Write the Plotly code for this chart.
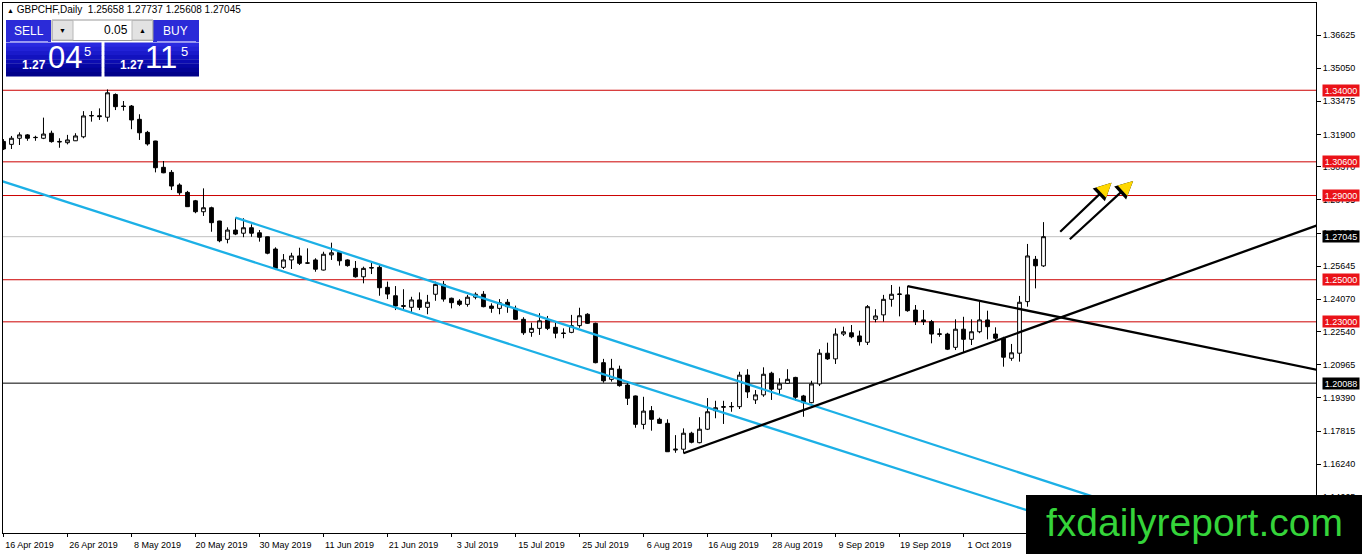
import plotly.graph_objects as go
import pandas as pd

# GBPCHF daily bars, 16 Apr 2019 .. 15 Oct 2019 (weekdays)
symbol = "GBPCHF,Daily"
dates = pd.bdate_range("2019-04-16", periods=131)

opens = [1.3157, 1.3143, 1.3172, 1.3188, 1.3175, 1.3172, 1.3196, 1.3157, 1.3151, 1.3160,
         1.3179, 1.3278, 1.3279, 1.3272, 1.3380, 1.3325, 1.3325, 1.3262, 1.3200, 1.3159,
         1.3034, 1.3010, 1.2950, 1.2915, 1.2875, 1.2823, 1.2842, 1.2779, 1.2692, 1.2736,
         1.2721, 1.2747, 1.2723, 1.2704, 1.2646, 1.2559, 1.2594, 1.2613, 1.2580, 1.2594,
         1.2546, 1.2618, 1.2630, 1.2594, 1.2554, 1.2514, 1.2558, 1.2559, 1.2464, 1.2424,
         1.2377, 1.2369, 1.2404, 1.2369, 1.2431, 1.2478, 1.2412, 1.2399, 1.2383, 1.2417,
         1.2431, 1.2375, 1.2364, 1.2393, 1.2364, 1.2312, 1.2250, 1.2269, 1.2309, 1.2274,
         1.2247, 1.2250, 1.2282, 1.2336, 1.2293, 1.2106, 1.2027, 1.2075, 1.2000, 1.1948,
         1.1813, 1.1878, 1.1837, 1.1818, 1.1691, 1.1695, 1.1771, 1.1726, 1.1790, 1.1878,
         1.1894, 1.1896, 1.1897, 1.2047, 1.1929, 1.1953, 1.2056, 1.1980, 1.2008, 1.2036,
         1.1948, 1.1916, 1.2005, 1.2151, 1.2124, 1.2242, 1.2248, 1.2233, 1.2203, 1.2312,
         1.2333, 1.2407, 1.2430, 1.2428, 1.2356, 1.2309, 1.2301, 1.2243, 1.2242, 1.2179,
         1.2265, 1.2217, 1.2253, 1.2309, 1.2242, 1.2222, 1.2127, 1.2151, 1.2396, 1.2597,
         1.25658]
highs = [1.3168, 1.3183, 1.3200, 1.3192, 1.3184, 1.3270, 1.3208, 1.3172, 1.3188, 1.3196,
         1.3301, 1.3301, 1.3314, 1.3404, 1.3385, 1.3349, 1.3330, 1.3286, 1.3207, 1.3160,
         1.3064, 1.3021, 1.2958, 1.2922, 1.2879, 1.2934, 1.2847, 1.2780, 1.2749, 1.2795,
         1.2792, 1.2763, 1.2736, 1.2705, 1.2654, 1.2622, 1.2628, 1.2652, 1.2649, 1.2602,
         1.2633, 1.2676, 1.2633, 1.2597, 1.2589, 1.2562, 1.2586, 1.2573, 1.2491, 1.2470,
         1.2455, 1.2419, 1.2440, 1.2428, 1.2491, 1.2494, 1.2415, 1.2408, 1.2428, 1.2440,
         1.2446, 1.2388, 1.2408, 1.2408, 1.2377, 1.2322, 1.2296, 1.2341, 1.2328, 1.2296,
         1.2269, 1.2333, 1.2367, 1.2341, 1.2296, 1.2124, 1.2124, 1.2092, 1.2011, 1.1950,
         1.1944, 1.1900, 1.1845, 1.1837, 1.1762, 1.1794, 1.1778, 1.1847, 1.1938, 1.1925,
         1.1925, 1.1919, 1.2063, 1.2075, 1.1976, 1.2084, 1.2063, 1.2032, 1.2075, 1.2039,
         1.1953, 1.2020, 1.2170, 1.2201, 1.2269, 1.2277, 1.2285, 1.2258, 1.2380, 1.2360,
         1.2428, 1.2475, 1.2467, 1.2470, 1.2380, 1.2356, 1.2309, 1.2269, 1.2248, 1.2312,
         1.2324, 1.2312, 1.2396, 1.2353, 1.2274, 1.2229, 1.2195, 1.2423, 1.2670, 1.2613,
         1.27737]
lows = [1.3116, 1.3121, 1.3140, 1.3160, 1.3160, 1.3168, 1.3151, 1.3127, 1.3143, 1.3159,
        1.3172, 1.3251, 1.3259, 1.3251, 1.3306, 1.3303, 1.3215, 1.3164, 1.3137, 1.3010,
        1.3006, 1.2926, 1.2903, 1.2846, 1.2816, 1.2803, 1.2728, 1.2678, 1.2673, 1.2712,
        1.2702, 1.2704, 1.2681, 1.2621, 1.2546, 1.2551, 1.2551, 1.2570, 1.2575, 1.2538,
        1.2544, 1.2594, 1.2567, 1.2562, 1.2510, 1.2483, 1.2527, 1.2424, 1.2408, 1.2356,
        1.2356, 1.2343, 1.2356, 1.2336, 1.2400, 1.2396, 1.2364, 1.2375, 1.2372, 1.2407,
        1.2369, 1.2343, 1.2336, 1.2343, 1.2309, 1.2238, 1.2229, 1.2238, 1.2261, 1.2222,
        1.2222, 1.2246, 1.2272, 1.2290, 1.2103, 1.2011, 1.2016, 1.1992, 1.1905, 1.1797,
        1.1790, 1.1783, 1.1815, 1.1682, 1.1678, 1.1676, 1.1723, 1.1723, 1.1786, 1.1842,
        1.1815, 1.1873, 1.1886, 1.1938, 1.1910, 1.1944, 1.1929, 1.1953, 1.2005, 1.1925,
        1.1849, 1.1913, 1.1995, 1.2119, 1.2100, 1.2233, 1.2222, 1.2187, 1.2190, 1.2298,
        1.2301, 1.2372, 1.2326, 1.2348, 1.2285, 1.2285, 1.2198, 1.2229, 1.2166, 1.2166,
        1.2153, 1.2190, 1.2246, 1.2217, 1.2206, 1.2087, 1.2115, 1.2111, 1.2372, 1.2459,
        1.25608]
closes = [1.3121, 1.3172, 1.3188, 1.3172, 1.3176, 1.3192, 1.3156, 1.3155, 1.3164, 1.3183,
          1.3278, 1.3280, 1.3275, 1.3388, 1.3322, 1.3323, 1.3259, 1.3198, 1.3145, 1.3032,
          1.3008, 1.2945, 1.2913, 1.2847, 1.2823, 1.2842, 1.2771, 1.2685, 1.2736, 1.2717,
          1.2747, 1.2721, 1.2702, 1.2626, 1.2554, 1.2594, 1.2613, 1.2578, 1.2579, 1.2550,
          1.2621, 1.2628, 1.2590, 1.2567, 1.2514, 1.2554, 1.2556, 1.2462, 1.2432, 1.2375,
          1.2374, 1.2404, 1.2369, 1.2393, 1.2478, 1.2408, 1.2391, 1.2383, 1.2417, 1.2431,
          1.2372, 1.2364, 1.2391, 1.2372, 1.2312, 1.2248, 1.2269, 1.2305, 1.2269, 1.2246,
          1.2245, 1.2282, 1.2329, 1.2293, 1.2106, 1.2020, 1.2079, 1.1997, 1.1937, 1.1813,
          1.1876, 1.1837, 1.1818, 1.1683, 1.1695, 1.1771, 1.1728, 1.1790, 1.1873, 1.1892,
          1.1897, 1.1898, 1.2047, 1.1967, 1.1953, 1.2051, 1.1980, 1.2005, 1.2027, 1.1942,
          1.1916, 1.2005, 1.2151, 1.2124, 1.2242, 1.2253, 1.2229, 1.2206, 1.2372, 1.2328,
          1.2407, 1.2431, 1.2432, 1.2353, 1.2301, 1.2301, 1.2242, 1.2241, 1.2170, 1.2265,
          1.2217, 1.2253, 1.2309, 1.2277, 1.2222, 1.2132, 1.2153, 1.2393, 1.2613, 1.2566,
          1.27045]

red_levels = [1.34000, 1.30600, 1.29000, 1.25000, 1.23000]
black_level = 1.20088
bid, ask = 1.27045, 1.27115

price_ticks = [1.36625, 1.35050, 1.33475, 1.31900, 1.30370, 1.28795, 1.27220, 1.25645,
               1.24070, 1.22540, 1.20965, 1.19390, 1.17815, 1.16240, 1.14665]

# drawn objects (bar index, price)
channel_upper_x, channel_upper_y = [29, 165], [1.2795, 1.1114]
channel_lower_x, channel_lower_y = [-1, 165], [1.2978, 1.0953]
support_x, support_y = [85, 170], [1.1676, 1.2838]
resist_x, resist_y = [113, 170], [1.2470, 1.2027]
arrows = [((131.9, 1.2721), (138.5, 1.2961)), ((133.1, 1.2686), (141.2, 1.2969))]

date_ticks = list(range(0, 121, 8))
date_labels = [f"{d.day} {d:%b %Y}" for d in dates[date_ticks]]

W, H = 1362, 554
L, R, T, B = 3, 46, 3, 21
FONT = "Liberation Sans"


def px(x):
    return (x - L) / (W - L - R)


def py(y):
    return (H - B - y) / (H - T - B)


fig = go.Figure()
fig.add_trace(go.Candlestick(
    x=list(range(len(opens))), open=opens, high=highs, low=lows, close=closes,
    increasing=dict(line=dict(color="black", width=1), fillcolor="white"),
    decreasing=dict(line=dict(color="black", width=1), fillcolor="black"),
    whiskerwidth=0, showlegend=False, hoverinfo="skip"))

for xs, ys, col in [(channel_upper_x, channel_upper_y, "#1cb0e6"),
                    (channel_lower_x, channel_lower_y, "#1cb0e6"),
                    (support_x, support_y, "black"),
                    (resist_x, resist_y, "black")]:
    fig.add_trace(go.Scatter(x=xs, y=ys, mode="lines", line=dict(color=col, width=2.3),
                             showlegend=False, hoverinfo="skip"))

for lv in red_levels:
    fig.add_hline(y=lv, line=dict(color="#cc0000", width=1), layer="below")
fig.add_hline(y=black_level, line=dict(color="black", width=1), layer="below")
fig.add_hline(y=bid, line=dict(color="#c0c0c0", width=1), layer="below")

# price labels on the right scale
for lv, bg in [(v, "#ea1218") for v in red_levels] + [(black_level, "black"), (bid, "black")]:
    fig.add_annotation(x=1, xref="paper", y=lv, yref="y", xanchor="left", xshift=6,
                       text=f"{lv:.5f}", showarrow=False, bgcolor=bg, borderpad=0,
                       width=36, height=11, font=dict(family=FONT, size=9, color="white"))

# arrows: black shaft, yellow head with dark rim
for (tx, ty), (hx, hy) in arrows:
    fig.add_annotation(x=hx, y=hy, ax=tx, ay=ty, xref="x", yref="y", axref="x", ayref="y",
                       showarrow=True, arrowhead=2, arrowsize=1.6, arrowwidth=2.2,
                       arrowcolor="black", text="")
    fig.add_annotation(x=hx, y=hy, ax=hx + 0.18 * (tx - hx), ay=hy + 0.18 * (ty - hy),
                       xref="x", yref="y", axref="x", ayref="y",
                       showarrow=True, arrowhead=2, arrowsize=1.3, arrowwidth=2.2,
                       arrowcolor="#ffd800", text="")


def rect(x0, y0, x1, y1, fill, line=None):
    fig.add_shape(type="rect", xref="paper", yref="paper", layer="above",
                  x0=px(x0), x1=px(x1), y0=py(y1), y1=py(y0), fillcolor=fill,
                  line=dict(width=1 if line else 0, color=line or fill))


def hseg(x0, x1, y, color):
    fig.add_shape(type="line", xref="paper", yref="paper", layer="above",
                  x0=px(x0), x1=px(x1), y0=py(y), y1=py(y), line=dict(color=color, width=1))


# one-click trading panel
blues = ["#2a2ae0", "#2222d6", "#1a1acb", "#1212bf", "#0b0bb2", "#0606a4", "#030396", "#01018a"]
for bx0, bx1 in [(6, 101.5), (104.5, 199)]:
    for i, c in enumerate(blues):
        rect(bx0, 42.5 + i * 4.2, bx1, 42.5 + (i + 1) * 4.2 + 0.3, c)
rect(6, 20, 51, 42, "#2b2bd8")
rect(153, 20, 199, 42, "#2b2bd8")
rect(52, 20, 153, 40.5, "white", "#9a9a9a")
rect(52.5, 20.5, 73, 40, "#e2e2e2", "#b8b8b8")
rect(132, 20.5, 152.5, 40, "#e2e2e2", "#b8b8b8")
hseg(10, 48, 41.5, "#9c9cf4")
hseg(157, 196, 41.5, "#9c9cf4")
# watermark box
rect(1026, 495, 1362, 554, "black")


def label(x, y, text, size, color="white", anchor="left", bold=False):
    fig.add_annotation(x=px(x), y=py(y), xref="paper", yref="paper", xanchor=anchor,
                       yanchor="middle", showarrow=False, text=f"<b>{text}</b>" if bold else text,
                       font=dict(family=FONT, size=size, color=color))


label(5, 10, "<span style='font-size:7px'>▲</span> " + symbol + "  1.25658 1.27737 1.25608 1.27045", 10, "black")
label(28.5, 31, "SELL", 12, anchor="center")
label(175.5, 31, "BUY", 12, anchor="center")
label(62.5, 30.5, "▼", 7, "black", anchor="center")
label(142, 30.5, "▲", 7, "black", anchor="center")
label(130, 30, "0.05", 12, "black", anchor="right")

sell_txt, buy_txt = f"{bid:.5f}", f"{ask:.5f}"
for x0, txt in [(20, sell_txt), (117.5, buy_txt)]:
    label(x0, 65, txt[:4], 12, bold=True)
    label(x0 + 25.5, 58, txt[4:6], 31)
    label(x0 + 61.5, 52, txt[6], 13)

label(1194, 522, "fxdailyreport.com", 39, "#35d43a", anchor="center")

fig.update_layout(
    width=W, height=H, margin=dict(l=L, r=R, t=T, b=B),
    paper_bgcolor="white", plot_bgcolor="white", showlegend=False,
    boxgap=0.32,
    xaxis=dict(range=[-0.06, 164.06], showgrid=False, zeroline=False, rangeslider=dict(visible=False),
               tickmode="array", tickvals=date_ticks, ticktext=date_labels, ticks="outside",
               ticklen=3, tickcolor="black", ticklabelshift=26,
               showline=True, linecolor="black", linewidth=1, mirror=True,
               tickfont=dict(family=FONT, size=9, color="black")),
    yaxis=dict(range=[1.1297, 1.38145], side="right", showgrid=False, zeroline=False,
               tickmode="array", tickvals=price_ticks, ticktext=[f"{v:.5f}" for v in price_ticks],
               ticks="outside", ticklen=4, tickcolor="black",
               showline=True, linecolor="black", linewidth=1, mirror=True,
               tickfont=dict(family=FONT, size=9, color="black")),
)

fig.write_html("out.html", config={"displayModeBar": False},
               post_script="document.body.style.margin='0';")
